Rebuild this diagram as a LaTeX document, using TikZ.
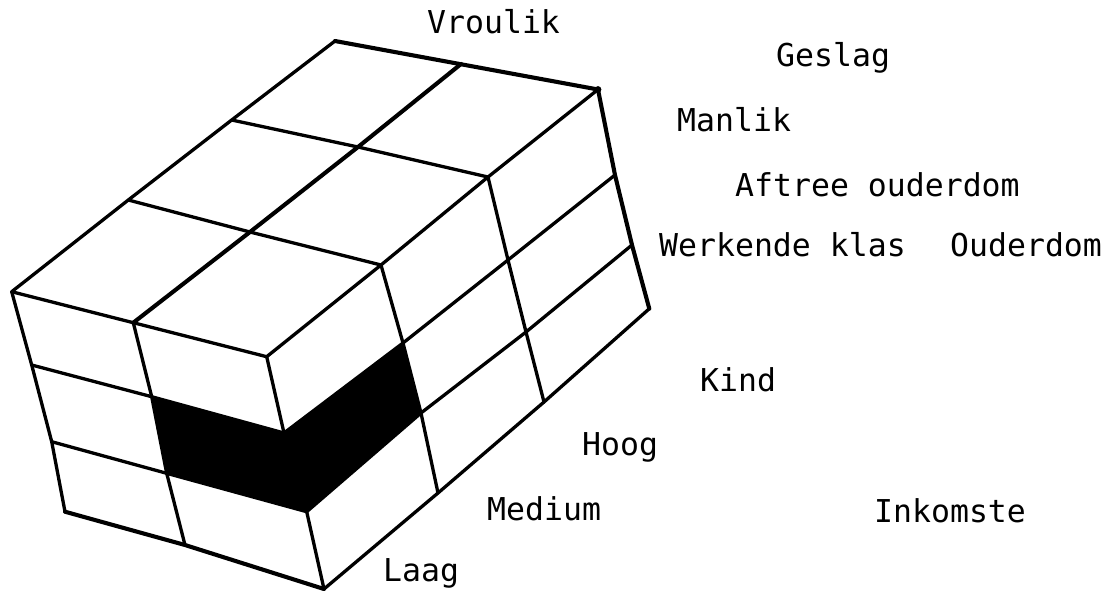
\documentclass[tikz,border=0pt]{standalone}
\usepackage{fontspec}
\setmonofont{DejaVu Sans Mono}
\begin{document}
\begin{tikzpicture}[x=1pt,y=-1pt,line join=round,line cap=round,
  gridline/.style={line width=3.3pt},
  heavyline/.style={line width=4.1pt},
  lbl/.style={anchor=base west,inner sep=0pt,font=\ttfamily\fontsize{31.5}{36}\selectfont}]
\useasboundingbox (0,0) rectangle (1117,592);
% corners of the block
\coordinate (A) at (335,41);
\coordinate (B) at (598,89.5);
\coordinate (C) at (11.7,291.7);
\coordinate (D) at (266.7,356.7);
\coordinate (Cb) at (65,511.7);
\coordinate (Db) at (324,589);
\coordinate (Bb) at (649.3,308.7);
% top face points
\coordinate (ABm) at (461,64);
\coordinate (CDm) at (133.3,322.7);
\coordinate (T1l) at (231.7,120);
\coordinate (T1m) at (358,147);
\coordinate (T1r) at (488,177);
\coordinate (T2l) at (128.3,200);
\coordinate (T2m) at (250,232);
\coordinate (T2r) at (381,265);
% front face points
\coordinate (F1l) at (31.7,365);
\coordinate (F2l) at (51.7,441.7);
\coordinate (F1m) at (151.7,396.7);
\coordinate (F2m) at (166.7,473.3);
\coordinate (Fbm) at (185,545);
\coordinate (F1r) at (284,433);
\coordinate (F2r) at (306.7,511.7);
% right face points
\coordinate (R11) at (403,343);
\coordinate (R21) at (421,413);
\coordinate (Rb1) at (438,493);
\coordinate (R12) at (508,260);
\coordinate (R22) at (526,332);
\coordinate (Rb2) at (544,402);
\coordinate (R13) at (615,175);
\coordinate (R23) at (632,245);
% shaded band
\fill[black] (F1m) -- (F1r) -- (R11) -- (R21) -- (F2r) -- (F2m) -- cycle;
% top face
\draw[heavyline] (A) -- (B);
\draw[gridline] (T1l) -- (T1m) -- (T1r);
\draw[gridline] (T2l) -- (T2m) -- (T2r);
\draw[gridline] (C) -- (CDm) -- (D);
\draw[gridline] (A) -- (T1l) -- (T2l) -- (C);
\draw[heavyline] (ABm) -- (T1m) -- (T2m) -- (CDm);
\draw[gridline] (B) -- (T1r) -- (T2r) -- (D);
% front face
\draw[gridline] (C) -- (F1l) -- (F2l) -- (Cb);
\draw[gridline] (CDm) -- (F1m) -- (F2m) -- (Fbm);
\draw[gridline] (D) -- (F1r) -- (F2r) -- (Db);
\draw[gridline] (F1l) -- (F1m) -- (F1r);
\draw[gridline] (F2l) -- (F2m) -- (F2r);
\draw[heavyline] (Cb) -- (Fbm) -- (Db);
% right face
\draw[gridline] (T2r) -- (R11) -- (R21) -- (Rb1);
\draw[gridline] (T1r) -- (R12) -- (R22) -- (Rb2);
\draw[heavyline] (B) -- (R13) -- (R23) -- (Bb);
\draw[gridline] (F1r) -- (R11) -- (R12) -- (R13);
\draw[gridline] (F2r) -- (R21) -- (R22) -- (R23);
\draw[gridline] (Db) -- (Rb1) -- (Rb2) -- (Bb);
\fill (B) circle (3.4pt);
% labels
\node[lbl] (vroulik) at (427,33.3) {Vroulik};
\node[lbl] (geslag) at (776,66.7) {Geslag};
\node[lbl] (manlik) at (677,131.7) {Manlik};
\node[lbl] (aftree) at (735,196.5) {Aftree ouderdom};
\node[lbl] (werkende) at (659,256) {Werkende klas};
\node[lbl] (ouderdom) at (950,256) {Ouderdom};
\node[lbl] (kind) at (700,391.7) {Kind};
\node[lbl] (hoog) at (582,455.5) {Hoog};
\node[lbl] (medium) at (487,520) {Medium};
\node[lbl] (inkomste) at (874,522) {Inkomste};
\node[lbl] (laag) at (383,581.7) {Laag};
\end{tikzpicture}
\end{document}
